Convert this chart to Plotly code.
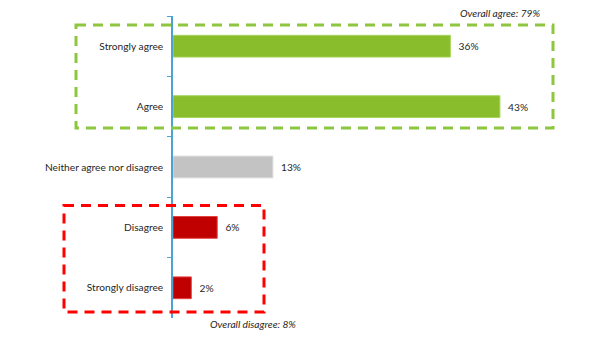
import plotly.graph_objects as go

categories = ["Strongly agree", "Agree", "Neither agree nor disagree", "Disagree", "Strongly disagree"]
values = [36.4, 42.9, 13.1, 5.8, 2.4]
labels = ["36%", "43%", "13%", "6%", "2%"]
colors = ["#8ABD2B", "#8ABD2B", "#C3C3C3", "#C00000", "#C00000"]
edge_colors = ["#A6D45A", "#A6D45A", "#D6D6D6", "#E04040", "#E04040"]
agree_note = "Overall agree: 79%"
disagree_note = "Overall disagree: 8%"

W, H = 605, 337
L, R, T, B = 173, 51, 16, 19
xmax = 50
pw = W - L - R
ph = H - T - B
font = "Lato"
fs = 10.2

def px_x(px):
    return (px - L) / pw

def px_y(py):
    return (H - B - py) / ph

fig = go.Figure(go.Bar(
    x=values, y=categories, orientation="h",
    marker=dict(color=colors, line=dict(color=edge_colors, width=1)),
    text=["\u00a0\u00a0" + t for t in labels], textposition="outside", cliponaxis=False,
    textfont=dict(family=font, size=fs, color="#262626"),
    width=0.36,
))

fig.update_layout(
    width=W, height=H,
    margin=dict(l=L, r=R, t=T, b=B),
    paper_bgcolor="white", plot_bgcolor="white",
    showlegend=False,
    font=dict(family=font, size=fs, color="#262626"),
    xaxis=dict(range=[0, xmax], visible=False, showgrid=False),
    yaxis=dict(autorange="reversed", showgrid=False, showline=True, linecolor="#4BA3D3",
               linewidth=1.5, ticks="outside", ticklen=4, tickcolor="#4BA3D3",
               tickson="boundaries", ticklabelstandoff=6,
               tickfont=dict(family=font, size=fs, color="#262626")),
    shapes=[
        dict(type="rect", xref="paper", yref="paper", x0=px_x(76), x1=px_x(553), y0=px_y(25), y1=px_y(128),
             line=dict(color="#8DC63F", width=3, dash="10px,7px")),
        dict(type="rect", xref="paper", yref="paper", x0=px_x(64), x1=px_x(264), y0=px_y(205.5), y1=px_y(312),
             line=dict(color="#FF0000", width=3, dash="10px,7px")),
    ],
    annotations=[
        dict(text=agree_note, xref="paper", yref="paper", x=px_x(542), y=px_y(13), xanchor="right",
             yanchor="middle", showarrow=False, font=dict(family=font, size=fs, color="#262626", style="italic")),
        dict(text=disagree_note, xref="paper", yref="paper", x=px_x(208), y=px_y(324), xanchor="left",
             yanchor="middle", showarrow=False, font=dict(family=font, size=fs, color="#262626", style="italic")),
    ],
)

fig.write_html("out.html")
